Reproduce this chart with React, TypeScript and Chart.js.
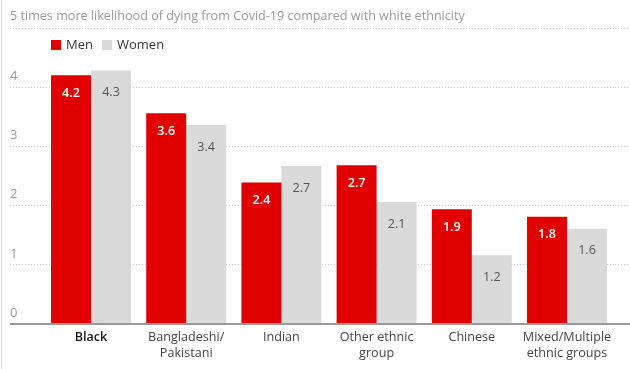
import React, { useEffect, useRef } from "react";
import { Chart, registerables } from "chart.js";

Chart.register(...registerables);

const categories: (string | string[])[] = [
  "Black",
  ["Bangladeshi/", "Pakistani"],
  "Indian",
  ["Other ethnic", "group"],
  "Chinese",
  ["Mixed/Multiple", "ethnic groups"],
];
const men = [4.2, 3.56, 2.39, 2.68, 1.94, 1.81];
const women = [4.28, 3.36, 2.67, 2.06, 1.16, 1.61];
const yTicks = [0, 1, 2, 3, 4, 5];
const topTickLabel =
  "5 times more likelihood of dying from Covid-19 compared with white ethnicity";
const seriesNames = ["Men", "Women"];

const RED = "#e10000";
const GREY = "#dadada";
const FAMILY = "'Open Sans', sans-serif";
const GRID = "#c4c4c4";
const BASE = "#9a9a9a";

const isZero = (c: any) => c && c.tick && c.tick.value === 0;

const valueLabels = {
  id: "valueLabels",
  afterDatasetsDraw(chart: any) {
    const ctx = chart.ctx;
    chart.data.datasets.forEach((ds: any, di: number) => {
      const meta = chart.getDatasetMeta(di);
      meta.data.forEach((bar: any, i: number) => {
        const v = ds.data[i] as number;
        ctx.save();
        ctx.font = di === 0 ? `600 12.6px ${FAMILY}` : `12.6px ${FAMILY}`;
        ctx.fillStyle = di === 0 ? "#ffffff" : "#555555";
        ctx.textAlign = "center";
        ctx.textBaseline = "middle";
        ctx.fillText(v.toFixed(1), bar.x, bar.y + (di === 0 ? 18 : 22));
        ctx.restore();
      });
    });
  },
};

const gridCommon = {
  color: (c: any) => (isZero(c) ? BASE : GRID),
  lineWidth: (c: any) => (isZero(c) ? 2 : 1),
  tickColor: (c: any) => (isZero(c) ? BASE : GRID),
  tickWidth: (c: any) => (isZero(c) ? 2 : 1),
  tickBorderDash: (c: any) => (isZero(c) ? [] : [1, 2]),
  drawTicks: true,
};

export default function App() {
  const ref = useRef<HTMLCanvasElement>(null);

  useEffect(() => {
    const chart = new Chart(ref.current as HTMLCanvasElement, {
      type: "bar",
      data: {
        labels: categories as any,
        datasets: [
          {
            label: seriesNames[0],
            data: men,
            backgroundColor: RED,
            categoryPercentage: 0.84,
            barPercentage: 1,
          },
          {
            label: seriesNames[1],
            data: women,
            backgroundColor: GREY,
            categoryPercentage: 0.84,
            barPercentage: 1,
          },
        ],
      },
      options: {
        animation: false,
        responsive: false,
        maintainAspectRatio: false,
        layout: { padding: { left: 10, top: 28, right: 0, bottom: 0 } },
        plugins: {
          legend: { display: false },
          tooltip: { enabled: false },
          title: { display: false },
        },
        scales: {
          x: {
            grid: { display: false, drawTicks: false },
            border: { display: true, color: BASE, width: 2, z: 1 },
            ticks: {
              padding: 6,
              maxRotation: 0,
              minRotation: 0,
              autoSkip: false,
              color: (c: any) => (c.index === 0 ? "#1a1a1a" : "#444444"),
              font: (c: any) => ({
                family: FAMILY,
                size: 12.6,
                weight: c.index === 0 ? "600" : "normal",
                lineHeight: 1.25,
              }),
            },
            afterFit: (s: any) => {
              s.height = 45;
            },
          },
          y: {
            position: "left",
            min: 0,
            max: 5,
            afterBuildTicks: (s: any) => {
              s.ticks = yTicks.map((v) => ({ value: v }));
            },
            ticks: {
              padding: 0,
              crossAlign: "far",
              labelOffset: -11,
              color: "#999999",
              font: { family: FAMILY, size: 13 },
              callback: (v: any) => (v === 5 ? "" : String(v)),
            },
            grid: { ...gridCommon, tickLength: 33.4 },
            border: {
              display: false,
              dash: (c: any) => (isZero(c) ? [] : [1, 2]),
            },
            afterFit: (s: any) => {
              s.width = 33.4;
            },
          },
          y2: {
            position: "right",
            min: 0,
            max: 5,
            afterBuildTicks: (s: any) => {
              s.ticks = yTicks.map((v) => ({ value: v }));
            },
            ticks: { display: false },
            grid: { ...gridCommon, drawOnChartArea: false, tickLength: 15.4 },
            border: { display: false },
            afterFit: (s: any) => {
              s.width = 15.4;
            },
          },
        },
      } as any,
      plugins: [valueLabels],
    });
    return () => chart.destroy();
  }, []);

  const legendText: React.CSSProperties = {
    position: "absolute",
    top: 35,
    lineHeight: "18px",
    fontFamily: FAMILY,
    fontSize: 13,
    color: "#333",
  };
  const swatch: React.CSSProperties = {
    position: "absolute",
    top: 40,
    width: 10,
    height: 10,
  };

  return (
    <div
      style={{
        position: "fixed",
        left: 0,
        top: 0,
        width: 630,
        height: 369,
        background: "#fff",
        overflow: "hidden",
      }}
    >
      <canvas ref={ref} width={630} height={369} style={{ display: "block" }} />
      <div
        style={{
          position: "absolute",
          left: 1,
          top: 0,
          width: 1,
          height: 369,
          background: "#dcdcdc",
        }}
      />
      <div
        style={{
          position: "absolute",
          left: 10,
          top: 8,
          lineHeight: "16px",
          fontFamily: FAMILY,
          fontSize: 12.6,
          color: "#999",
          whiteSpace: "nowrap",
        }}
      >
        {topTickLabel}
      </div>
      <div style={{ ...swatch, left: 51, background: RED }} />
      <div style={{ ...legendText, left: 66 }}>{seriesNames[0]}</div>
      <div style={{ ...swatch, left: 102, background: GREY }} />
      <div style={{ ...legendText, left: 117 }}>{seriesNames[1]}</div>
    </div>
  );
}
